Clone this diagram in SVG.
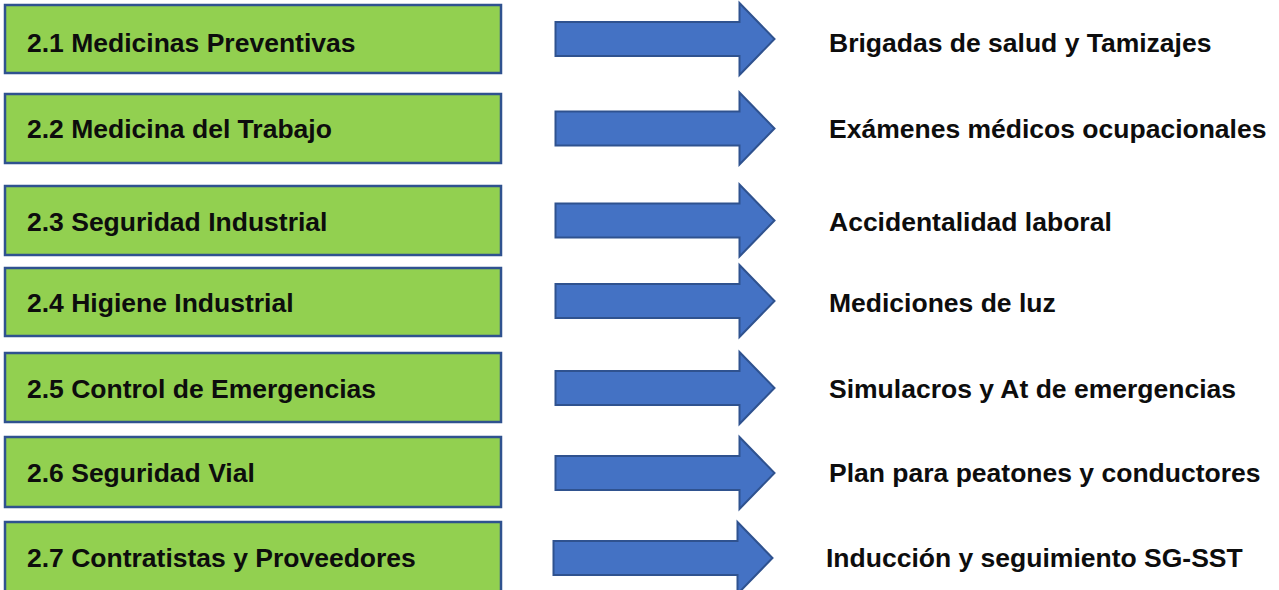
<svg xmlns="http://www.w3.org/2000/svg" width="1279" height="590" viewBox="0 0 1279 590">
<defs>
<style>
.box{fill:#92D050;stroke:#2F528F;stroke-width:2.5}
.arr{fill:#4472C4;stroke:#2F528F;stroke-width:2;stroke-linejoin:miter}
.t{font-family:"Liberation Sans",Arial,sans-serif;font-weight:bold;font-size:26.5px;fill:#0d0d0d}
</style>
<path id="arrow" d="M0,-17 H184 V-36 L219,0 L184,36 V17 H0 Z"/>
</defs>
<rect width="1279" height="590" fill="#ffffff"/>
<g id="node1"><rect class="box" x="5" y="5" width="496" height="68"/><text class="t" x="27" y="52">2.1 Medicinas Preventivas</text></g>
<g id="node2"><rect class="box" x="5" y="94" width="496" height="69"/><text class="t" x="27" y="138">2.2 Medicina del Trabajo</text></g>
<g id="node3"><rect class="box" x="5" y="186" width="496" height="69"/><text class="t" x="27" y="231">2.3 Seguridad Industrial</text></g>
<g id="node4"><rect class="box" x="5" y="268" width="496" height="68"/><text class="t" x="27" y="312">2.4 Higiene Industrial</text></g>
<g id="node5"><rect class="box" x="5" y="353" width="496" height="69"/><text class="t" x="27" y="398">2.5 Control de Emergencias</text></g>
<g id="node6"><rect class="box" x="5" y="437" width="496" height="70"/><text class="t" x="27" y="482">2.6 Seguridad Vial</text></g>
<g id="node7"><rect class="box" x="5" y="522" width="496" height="72"/><text class="t" x="27" y="567">2.7 Contratistas y Proveedores</text></g>
<g id="connectors">
<use href="#arrow" class="arr" x="555.5" y="39"/>
<use href="#arrow" class="arr" x="555.5" y="128.5"/>
<use href="#arrow" class="arr" x="555.5" y="220.5"/>
<use href="#arrow" class="arr" x="555.5" y="301"/>
<use href="#arrow" class="arr" x="555.5" y="388"/>
<use href="#arrow" class="arr" x="555.5" y="473"/>
<use href="#arrow" class="arr" x="553.5" y="558"/>
</g>
<g id="labels">
<text class="t" x="829" y="52">Brigadas de salud y Tamizajes</text>
<text class="t" x="829" y="138">Exámenes médicos ocupacionales</text>
<text class="t" x="829" y="231">Accidentalidad laboral</text>
<text class="t" x="829" y="312">Mediciones de luz</text>
<text class="t" x="829" y="398">Simulacros y At de emergencias</text>
<text class="t" x="829" y="482">Plan para peatones y conductores</text>
<text class="t" x="826" y="567">Inducción y seguimiento SG-SST</text>
</g>
</svg>
